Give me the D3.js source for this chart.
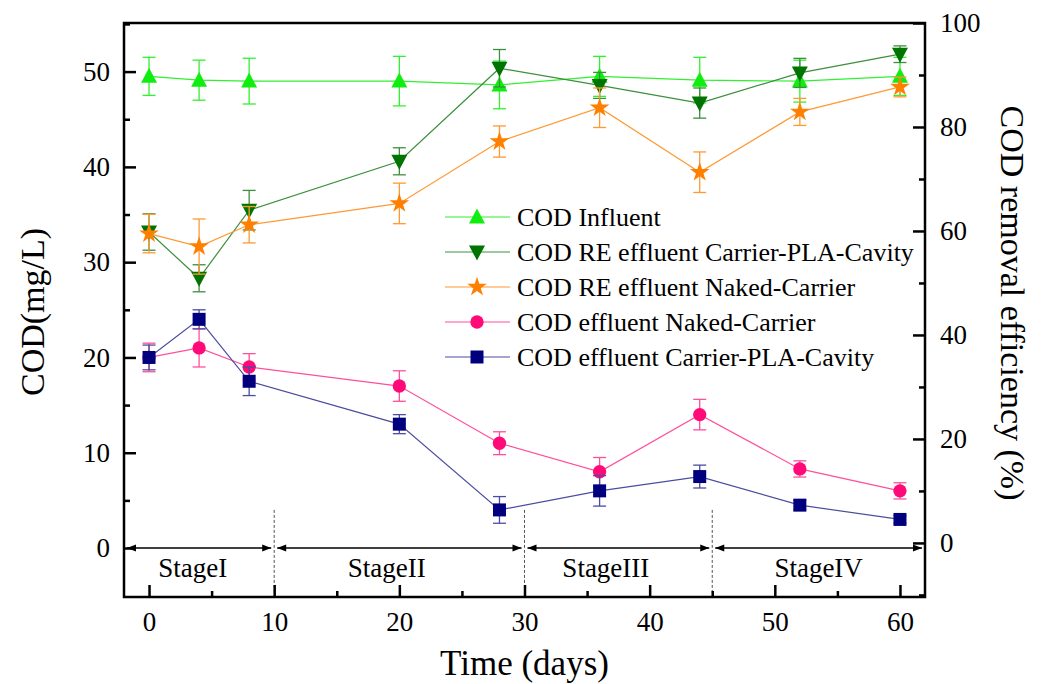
<!DOCTYPE html>
<html>
<head>
<meta charset="utf-8">
<script src="https://cdn.jsdelivr.net/npm/d3@7"></script>
<style>
  body { margin: 0; background: #fff; }
  svg text { font-family: "Liberation Serif", "Times New Roman", serif; fill: #000; }
</style>
</head>
<body>
<script>
// sampling days
const days = [0, 4, 8, 20, 28, 36, 44, 52, 60];

// COD concentrations, mg/L (left axis)
const influent = [49.5, 49.1, 49.0, 49.0, 48.6, 49.5, 49.1, 49.0, 49.5];
const influentErr = [2.0, 2.1, 2.4, 2.6, 2.5, 2.1, 2.4, 2.2, 2.0];
const effNaked = [20.0, 21.0, 19.0, 17.0, 11.0, 8.0, 14.0, 8.3, 6.0];
const effNakedErr = [1.5, 2.0, 1.4, 1.6, 1.2, 1.5, 1.6, 0.85, 0.85];
const effPLA = [20.0, 24.0, 17.5, 13.0, 4.0, 6.0, 7.5, 4.5, 3.0];
const effPLAErr = [1.3, 1.0, 1.5, 1.0, 1.4, 1.6, 1.2, 0.5, 0.4];

// COD removal efficiency, % (right axis)
const rePLA = [59.8, 50.9, 64.0, 73.4, 91.3, 88.0, 84.6, 90.4, 94.0];
const rePLAErr = [3.5, 2.6, 3.8, 2.6, 3.6, 2.5, 2.9, 2.8, 1.6];
const reNaked = [59.5, 57.0, 61.2, 65.3, 77.2, 83.7, 71.3, 82.9, 87.7];
const reNakedErr = [3.7, 5.3, 3.5, 3.9, 3.0, 3.8, 3.9, 2.6, 1.9];

// stages
const stageBounds = [-2, 10, 30, 45, 62];
const stageNames = ["StageI", "StageII", "StageIII", "StageIV"];
const stageLabelX = [3.5, 19, 36.5, 53.5];

const xTicks = [0, 10, 20, 30, 40, 50, 60];
const yLeftTicks = [0, 10, 20, 30, 40, 50];
const yRightTicks = [0, 20, 40, 60, 80, 100];

const W = 1046, H = 684;
const L = 124, R = 925, T = 23, B = 597;

const svg = d3.select("body").append("svg")
    .attr("width", W)
    .attr("height", H);

const x = d3.scaleLinear().domain([-2, 62]).range([L, R]);
const yL = d3.scaleLinear().domain([-5.14, 55.1]).range([B, T]);
const yR = d3.scaleLinear().domain([-10.4, 100]).range([B, T]);

// marker shapes
function shape(kind) {
    if (kind === "up") return "M0,-8.5L8,6.5L-8,6.5Z";
    if (kind === "down") return "M0,8.5L8,-6.5L-8,-6.5Z";
    if (kind === "square") return "M-6.5,-6.5H6.5V6.5H-6.5Z";
    if (kind === "circle") return d3.symbol(d3.symbolCircle, 140)();
    if (kind === "star") return d3.symbol(d3.symbolStar, 120)();
}

const series = [
    {name: "COD Influent", vals: influent, err: influentErr, y: yL, color: "#10ee10", line: "#30f030", shape: "up"},
    {name: "COD RE effluent Carrier-PLA-Cavity", vals: rePLA, err: rePLAErr, y: yR, color: "#007400", line: "#3c8f3c", shape: "down"},
    {name: "COD RE effluent Naked-Carrier", vals: reNaked, err: reNakedErr, y: yR, color: "#ff8000", line: "#ff9933", shape: "star"},
    {name: "COD effluent Naked-Carrier", vals: effNaked, err: effNakedErr, y: yL, color: "#ff0a78", line: "#ff4f9a", shape: "circle"},
    {name: "COD effluent Carrier-PLA-Cavity", vals: effPLA, err: effPLAErr, y: yL, color: "#00007f", line: "#4c4ca0", shape: "square"}
];

// stage separators and arrows
svg.append("defs").selectAll("marker")
    .data(["arrowEnd", "arrowStart"])
    .join("marker")
    .attr("id", d => d)
    .attr("viewBox", "0 -5 10 10")
    .attr("refX", 10)
    .attr("refY", 0)
    .attr("markerUnits", "userSpaceOnUse")
    .attr("markerWidth", 12)
    .attr("markerHeight", 9)
    .attr("orient", "auto-start-reverse")
    .append("path")
    .attr("d", "M0,-4L10,0L0,4Z")
    .attr("fill", "#000");

svg.append("g")
    .selectAll("line")
    .data(stageBounds.slice(1, -1))
    .join("line")
    .attr("x1", d => x(d)).attr("x2", d => x(d))
    .attr("y1", yL(4)).attr("y2", B)
    .attr("stroke", "#555")
    .attr("stroke-width", 1)
    .attr("stroke-dasharray", "3,2");

svg.append("g")
    .selectAll("line")
    .data(d3.range(stageNames.length))
    .join("line")
    .attr("x1", i => x(stageBounds[i]) + 3)
    .attr("x2", i => x(stageBounds[i + 1]) - 3)
    .attr("y1", yL(0)).attr("y2", yL(0))
    .attr("stroke", "#000")
    .attr("stroke-width", 1.6)
    .attr("marker-start", "url(#arrowStart)")
    .attr("marker-end", "url(#arrowEnd)");

svg.append("g")
    .selectAll("text")
    .data(stageNames)
    .join("text")
    .attr("x", (d, i) => x(stageLabelX[i]))
    .attr("y", 577)
    .attr("text-anchor", "middle")
    .style("font-size", "27px")
    .text(d => d);

// data lines, error bars, markers
const line = (s) => d3.line().x((d, i) => x(days[i])).y(d => s.y(d))(s.vals);

series.forEach(s => {
    const g = svg.append("g");
    g.append("path")
        .attr("d", line(s))
        .attr("fill", "none")
        .attr("stroke", s.line)
        .attr("stroke-width", 1.2);
    const eb = g.append("g").attr("stroke", s.line).attr("stroke-width", 1.3);
    s.vals.forEach((v, i) => {
        const cx = x(days[i]), y0 = s.y(v - s.err[i]), y1 = s.y(v + s.err[i]);
        eb.append("line").attr("x1", cx).attr("x2", cx).attr("y1", y0).attr("y2", y1);
        eb.append("line").attr("x1", cx - 6.5).attr("x2", cx + 6.5).attr("y1", y0).attr("y2", y0);
        eb.append("line").attr("x1", cx - 6.5).attr("x2", cx + 6.5).attr("y1", y1).attr("y2", y1);
    });
    g.selectAll("path.m")
        .data(s.vals)
        .join("path")
        .attr("class", "m")
        .attr("transform", (d, i) => `translate(${x(days[i])},${s.y(d)})`)
        .attr("d", shape(s.shape))
        .attr("fill", s.color);
});

// axes (ticks inward)
svg.append("g")
    .attr("transform", `translate(0,${B})`)
    .call(d3.axisBottom(x).tickValues(xTicks).tickSize(-12).tickPadding(15).tickFormat(d3.format("d")));
svg.append("g")
    .attr("transform", `translate(0,${B})`)
    .call(d3.axisBottom(x).tickValues([5, 15, 25, 35, 45, 55]).tickSize(-6).tickFormat(""));

svg.append("g")
    .attr("transform", `translate(${L},0)`)
    .call(d3.axisLeft(yL).tickValues(yLeftTicks).tickSize(-12).tickPadding(14));
svg.append("g")
    .attr("transform", `translate(${L},0)`)
    .call(d3.axisLeft(yL).tickValues([5, 15, 25, 35, 45, 55]).tickSize(-6).tickFormat(""));

svg.append("g")
    .attr("transform", `translate(${R},0)`)
    .call(d3.axisRight(yR).tickValues(yRightTicks).tickSize(-12).tickPadding(15));
svg.append("g")
    .attr("transform", `translate(${R},0)`)
    .call(d3.axisRight(yR).tickValues([-10, 10, 30, 50, 70, 90]).tickSize(-6).tickFormat(""));

svg.selectAll(".domain").remove();
svg.selectAll("g").attr("font-family", null);
svg.selectAll(".tick line").attr("stroke", "#000").attr("stroke-width", 2.5);
svg.selectAll(".tick text").style("font-size", "27px").attr("fill", "#000");

svg.append("rect")
    .attr("x", L).attr("y", T)
    .attr("width", R - L).attr("height", B - T)
    .attr("fill", "none")
    .attr("stroke", "#000")
    .attr("stroke-width", 2.5);

// axis titles
svg.append("text")
    .attr("x", (L + R) / 2)
    .attr("y", 675)
    .attr("text-anchor", "middle")
    .style("font-size", "35px")
    .text("Time (days)");

svg.append("text")
    .attr("transform", `translate(44,312) rotate(-90)`)
    .attr("text-anchor", "middle")
    .style("font-size", "34px")
    .text("COD(mg/L)");

svg.append("text")
    .attr("transform", `translate(1001,303) rotate(90)`)
    .attr("text-anchor", "middle")
    .style("font-size", "34px")
    .text("COD removal efficiency (%)");

// legend
const legend = svg.append("g").attr("transform", "translate(445,217)");
const rows = legend.selectAll("g")
    .data(series)
    .join("g")
    .attr("transform", (d, i) => `translate(0,${i * 35})`);
rows.append("line")
    .attr("x1", 0).attr("x2", 65)
    .attr("stroke", d => d.line)
    .attr("stroke-width", 1.2);
rows.append("path")
    .attr("transform", "translate(32,0)")
    .attr("d", d => shape(d.shape))
    .attr("fill", d => d.color);
rows.append("text")
    .attr("x", 72)
    .attr("y", 9)
    .style("font-size", "26px")
    .text(d => d.name);
</script>
</body>
</html>
